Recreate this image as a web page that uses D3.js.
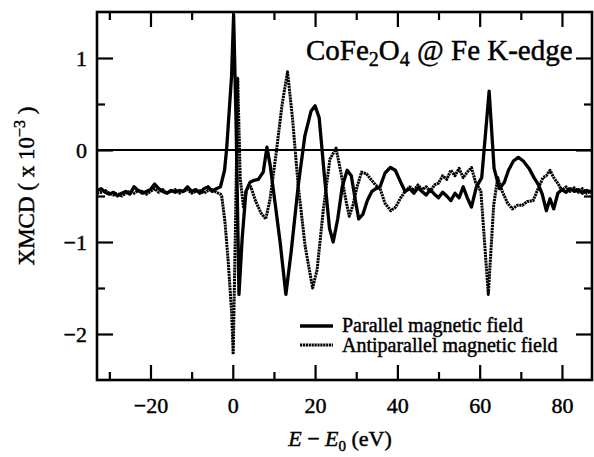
<!DOCTYPE html>
<html><head><meta charset="utf-8">
<script src="https://cdn.jsdelivr.net/npm/d3@7"></script>
<style>
html,body{margin:0;padding:0;background:#fff;}
svg{display:block;}
svg text{font-family:"Liberation Serif","Times New Roman",serif !important;fill:#000;stroke:#000;stroke-width:0.45px;}
</style></head>
<body>
<svg id="chart" width="594" height="457"></svg>
<script>
// ---------- data ----------
const parE = [-33,-32,-31,-30,-29,-28,-27,-26,-25,-24,-23,-22,-21,-20,-19,-18,-17,-16,-15,-14,-13,-12,-11,-10,-9,-8,-7,-6,-5,-4,-3,-2,-1.5,-0.3,0.2,0.8,1.5,2.3,3.2,4.2,5.2,6.2,7.4,8.3,9.1,10.2,11.5,12.9,14.2,15.9,17.5,19.0,20.0,21.0,22.2,23.5,24.4,25.5,26.6,27.8,28.8,29.8,30.6,31.6,32.7,33.8,34.8,35.8,37.0,38.3,39.5,40.8,41.9,43,44,45,46,47,48,49,50,51,52,53,54,55,56,57,58,59.2,60.5,62.3,63.5,64.8,66,67,68.2,69.4,70.6,72,73.2,74.3,75.2,76.2,77.1,78,79,80,81,82,83,84,85,86,87.3];
const parV = [-0.44,-0.42,-0.46,-0.48,-0.46,-0.50,-0.47,-0.45,-0.48,-0.40,-0.44,-0.47,-0.45,-0.43,-0.37,-0.42,-0.45,-0.47,-0.44,-0.46,-0.44,-0.45,-0.40,-0.45,-0.43,-0.47,-0.42,-0.40,-0.45,-0.42,-0.40,-0.22,0.01,0.80,1.47,0.30,-1.57,-0.95,-0.45,-0.35,-0.33,-0.32,-0.24,0.03,-0.17,-0.55,-1.0,-1.57,-1.1,-0.39,0.15,0.42,0.48,0.35,-0.25,-0.85,-1.0,-0.75,-0.40,-0.22,-0.28,-0.55,-0.75,-0.70,-0.55,-0.45,-0.42,-0.40,-0.25,-0.19,-0.22,-0.35,-0.45,-0.42,-0.47,-0.41,-0.45,-0.49,-0.43,-0.48,-0.52,-0.46,-0.50,-0.55,-0.47,-0.52,-0.40,-0.52,-0.62,-0.40,-0.30,0.64,-0.20,-0.42,-0.35,-0.22,-0.12,-0.08,-0.12,-0.20,-0.30,-0.38,-0.48,-0.66,-0.53,-0.64,-0.47,-0.43,-0.46,-0.42,-0.45,-0.43,-0.47,-0.44,-0.46];

const antiE = [-33,-32,-31,-30,-29,-28,-27,-26,-25,-24,-23,-22,-21,-20,-19,-18,-17,-16,-15,-14,-13,-12,-11,-10,-9,-8,-7,-6,-5,-4,-3,-2.7,-1.9,-1.1,-0.3,0.1,0.7,1.2,1.8,2.6,3.4,4.4,5.5,6.8,8.0,9.0,10.5,12.0,13.3,14.5,15.9,17.6,19.4,20.5,22.0,23.6,25.1,26.3,27.5,28.3,29.2,30.2,31.3,32.5,33.6,34.7,35.8,37.0,38.4,39.6,40.8,41.9,43,44,45,46,47,48,49,50,51,52,53,54,55,56,57,58,59,60.3,62.1,63.4,64.4,65.5,66.8,68,69.2,70.4,71.6,73,74.2,75.4,76.2,77.1,78,79.1,80,81,82,83,84,85,86,87.3];
const antiV = [-0.47,-0.46,-0.44,-0.47,-0.49,-0.47,-0.50,-0.47,-0.45,-0.47,-0.44,-0.45,-0.48,-0.45,-0.42,-0.46,-0.43,-0.47,-0.45,-0.43,-0.47,-0.45,-0.43,-0.47,-0.45,-0.44,-0.47,-0.44,-0.43,-0.46,-0.48,-0.50,-0.78,-1.22,-1.75,-2.22,-0.70,0.78,-0.30,-0.62,-0.42,-0.40,-0.55,-0.68,-0.75,-0.55,-0.05,0.50,0.85,0.35,-0.39,-1.05,-1.50,-1.30,-0.65,-0.10,0.02,-0.25,-0.55,-0.72,-0.60,-0.40,-0.24,-0.26,-0.32,-0.38,-0.42,-0.58,-0.66,-0.62,-0.52,-0.45,-0.40,-0.44,-0.38,-0.43,-0.40,-0.45,-0.38,-0.36,-0.28,-0.32,-0.22,-0.28,-0.20,-0.30,-0.24,-0.19,-0.35,-0.45,-1.57,-0.60,-0.30,-0.45,-0.58,-0.64,-0.60,-0.60,-0.56,-0.55,-0.42,-0.30,-0.28,-0.22,-0.30,-0.37,-0.44,-0.40,-0.45,-0.41,-0.46,-0.42,-0.47,-0.44];

const xMajor = [-20,0,20,40,60,80];
const xMinor = [-30,-10,10,30,50,70];
const yMajor = [-2,-1,0,1];
const yMinor = [-1.5,-0.5,0.5];
const seriesNames = ["Parallel magnetic field","Antiparallel magnetic field"];
const titleMain = ["CoFe","2","O","4"," @ Fe K-edge"];

// ---------- layout ----------
const svg = d3.select("#chart");
const L = 97, R = 592, T = 12, B = 380;
const x = d3.scaleLinear().domain([-33, 87.3]).range([L, R]);
const y = d3.scaleLinear().domain([-2.5, 1.5]).range([B, T]);
const fmt = d => d3.format("d")(d);
const SERIF = '"Liberation Serif","Times New Roman",serif';

svg.append("defs").append("clipPath").attr("id","clip")
  .append("rect").attr("x",L).attr("y",T).attr("width",R-L).attr("height",B-T);

// zero line
svg.append("line").attr("x1",L).attr("x2",R).attr("y1",y(0)).attr("y2",y(0))
  .attr("stroke","#000").attr("stroke-width",1.8);

// axes
function styleAxis(g){
  g.attr("font-family",SERIF).attr("font-size",22);
  g.select(".domain").remove();
  g.selectAll(".tick line").attr("stroke","#000").attr("stroke-width",2.2);
  g.selectAll("text").style("font-family",SERIF).style("font-size","22px").attr("fill","#000");
}
svg.append("g").attr("transform",`translate(0,${B})`).call(d3.axisBottom(x).tickValues(xMajor).tickSize(-15).tickPadding(17).tickFormat(fmt)).call(styleAxis);
svg.append("g").attr("transform",`translate(0,${B})`).call(d3.axisBottom(x).tickValues(xMinor).tickSize(-8).tickFormat("")).call(styleAxis);
svg.append("g").attr("transform",`translate(0,${T})`).call(d3.axisTop(x).tickValues(xMajor).tickSize(-15).tickFormat("")).call(styleAxis);
svg.append("g").attr("transform",`translate(0,${T})`).call(d3.axisTop(x).tickValues(xMinor).tickSize(-8).tickFormat("")).call(styleAxis);
svg.append("g").attr("transform",`translate(${L},0)`).call(d3.axisLeft(y).tickValues(yMajor).tickSize(-16).tickPadding(10).tickFormat(fmt)).call(styleAxis);
svg.append("g").attr("transform",`translate(${L},0)`).call(d3.axisLeft(y).tickValues(yMinor).tickSize(-8).tickFormat("")).call(styleAxis);
svg.append("g").attr("transform",`translate(${R},0)`).call(d3.axisRight(y).tickValues(yMajor).tickSize(-16).tickFormat("")).call(styleAxis);
svg.append("g").attr("transform",`translate(${R},0)`).call(d3.axisRight(y).tickValues(yMinor).tickSize(-8).tickFormat("")).call(styleAxis);

// series
const line = d3.line().x(d=>x(d[0])).y(d=>y(d[1]));
const par = parE.map((e,i)=>[e,parV[i]]);
const anti = antiE.map((e,i)=>[e,antiV[i]]);
const gL = svg.append("g").attr("clip-path","url(#clip)");
gL.append("path").datum(anti).attr("d",line).attr("fill","none")
  .attr("stroke","#000").attr("stroke-width",3).attr("stroke-dasharray","2.2,0.7").attr("stroke-linejoin","round");
gL.append("path").datum(par).attr("d",line).attr("fill","none")
  .attr("stroke","#000").attr("stroke-width",3.3).attr("stroke-linejoin","round");

// frame
svg.append("rect").attr("x",L).attr("y",T).attr("width",R-L).attr("height",B-T)
  .attr("fill","none").attr("stroke","#000").attr("stroke-width",2.6);

// title in plot
const tt = svg.append("text").attr("x",306).attr("y",60).attr("font-size",29);
tt.append("tspan").text(titleMain[0]);
tt.append("tspan").attr("font-size",20).attr("dy",6).text(titleMain[1]);
tt.append("tspan").attr("dy",-6).text(titleMain[2]);
tt.append("tspan").attr("font-size",20).attr("dy",6).text(titleMain[3]);
tt.append("tspan").attr("dy",-6).text(titleMain[4]);

// legend
const lg = svg.append("g");
lg.append("line").attr("x1",300).attr("x2",333).attr("y1",326).attr("y2",326).attr("stroke","#000").attr("stroke-width",3.3);
lg.append("line").attr("x1",300).attr("x2",333).attr("y1",345).attr("y2",345).attr("stroke","#000").attr("stroke-width",3).attr("stroke-dasharray","2.2,0.7");
lg.append("text").attr("x",342).attr("y",332).attr("font-size",20).text(seriesNames[0]);
lg.append("text").attr("x",342).attr("y",352).attr("font-size",20).text(seriesNames[1]);

// axis titles
const xt = svg.append("text").attr("x",340).attr("y",446).attr("text-anchor","middle").attr("font-size",22);
xt.append("tspan").attr("font-style","italic").text("E");
xt.append("tspan").text(" \u2212 ");
xt.append("tspan").attr("font-style","italic").text("E");
xt.append("tspan").attr("font-size",15).attr("dy",5).text("0");
xt.append("tspan").attr("dy",-5).text(" (eV)");

const yt = svg.append("text").attr("transform","translate(34,186) rotate(-90)").attr("text-anchor","middle").attr("font-size",23);
yt.append("tspan").text("XMCD ( x 10");
yt.append("tspan").attr("font-size",16).attr("dy",-9).text("\u22123");
yt.append("tspan").attr("dy",9).text(" )");
</script>
</body></html>
